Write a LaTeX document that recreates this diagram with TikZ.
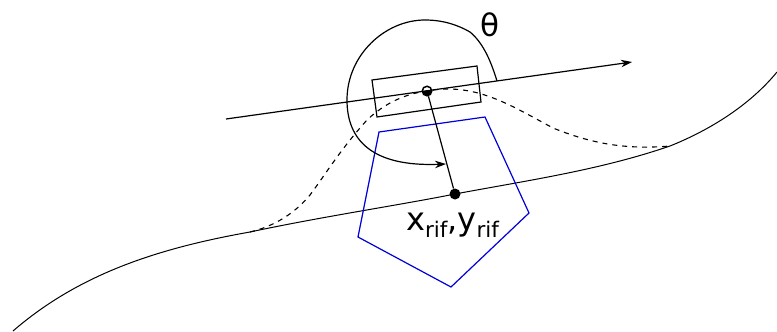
\documentclass[tikz,border=0pt]{standalone}
\usepackage{fontspec}
\setmainfont{DejaVu Sans}
\usetikzlibrary{arrows.meta}
\tikzset{
  px/.style={x=1pt,y=-1pt},
  ln/.style={draw=black,line width=1.2pt},
  thin curve/.style={draw=black,line width=1pt},
  dash curve/.style={draw=black,line width=1.1pt,dash pattern=on 5pt off 5pt},
  arrowed/.style={-{Stealth[length=11pt,width=7.5pt,inset=3.5pt]}},
  pent/.style={draw=blue!85!black,line width=1.2pt},
  bigdot/.style={circle,fill=black,inner sep=0pt,minimum size=11pt},
  hub/.style={circle,draw=black,line width=1.5pt,fill=white,inner sep=0pt,minimum size=9.5pt},
  lab/.style={font=\fontsize{32}{36}\selectfont,inner sep=0pt},
}
\newcommand{\rifsub}{\raisebox{-7pt}{\fontsize{21.5}{24}\selectfont rif}}
\begin{document}
\begin{tikzpicture}[px]
\useasboundingbox (0,0) rectangle (777,332);
\coordinate (s) at (13,331);
\coordinate (a) at (250,232);
\coordinate (b) at (670,146);
\coordinate (e) at (777,72);
\coordinate (lstart) at (226,119);
\coordinate (ltip) at (632,62);
\coordinate (r1) at (372,80);
\coordinate (r2) at (477,66);
\coordinate (r3) at (481,102);
\coordinate (r4) at (377,117);
\coordinate (p1) at (379,132);
\coordinate (p2) at (485,117);
\coordinate (p3) at (529,213);
\coordinate (p4) at (451,287);
\coordinate (p5) at (358,237);
\coordinate (arcstart) at (497,81);
\coordinate (arctip) at (446,164);
\node[hub] (h) at (427,91) {};
\node[bigdot] (d) at (455,194) {};
% track
\draw[thin curve] (s) .. controls (80,273) and (160,248) .. (a)
  .. controls (320,217) and (400,205) .. (d.center)
  .. controls (530,180) and (600,170) .. (b)
  .. controls (710,130) and (750,105) .. (e);
% dashed
\draw[dash curve] (a) .. controls (275,226) and (295,213) .. (310,195)
  .. controls (325,175) and (340,150) .. (367,120)
  .. controls (385,103) and (405,94) .. (h.center)
  .. controls (475,82) and (510,105) .. (553,128)
  .. controls (590,143) and (625,150) .. (b);
% heading
\draw[ln,arrowed] (lstart) -- (ltip);
% body
\draw[ln] (r1) -- (r2) -- (r3) -- (r4) -- cycle;
% pentagon
\draw[pent] (p1) -- (p2) -- (p3) -- (p4) -- (p5) -- cycle;
% theta arc
\draw[ln,arrowed] (arcstart) .. controls (490,58) and (482,42) .. (470,32)
  .. controls (458,25) and (443,20) .. (425,20)
  .. controls (385,20) and (347,55) .. (347,100)
  .. controls (347,140) and (372,167) .. (arctip);
% stem
\draw[ln] (h) -- (d);
\fill[black] (h.center) -- (422.5,91) arc[start angle=180,end angle=270,radius=4.5,y radius=-4.5] -- cycle;
\fill[black] (h.center) -- (431.5,91) arc[start angle=0,end angle=90,radius=4.5] -- cycle;
\node[lab,anchor=base west] (xy) at (406,230) {x\rifsub,y\rifsub};
\node[font=\fontsize{31}{33}\selectfont,inner sep=0pt,anchor=base] (th) at (490,36) {θ};
\end{tikzpicture}
\end{document}
